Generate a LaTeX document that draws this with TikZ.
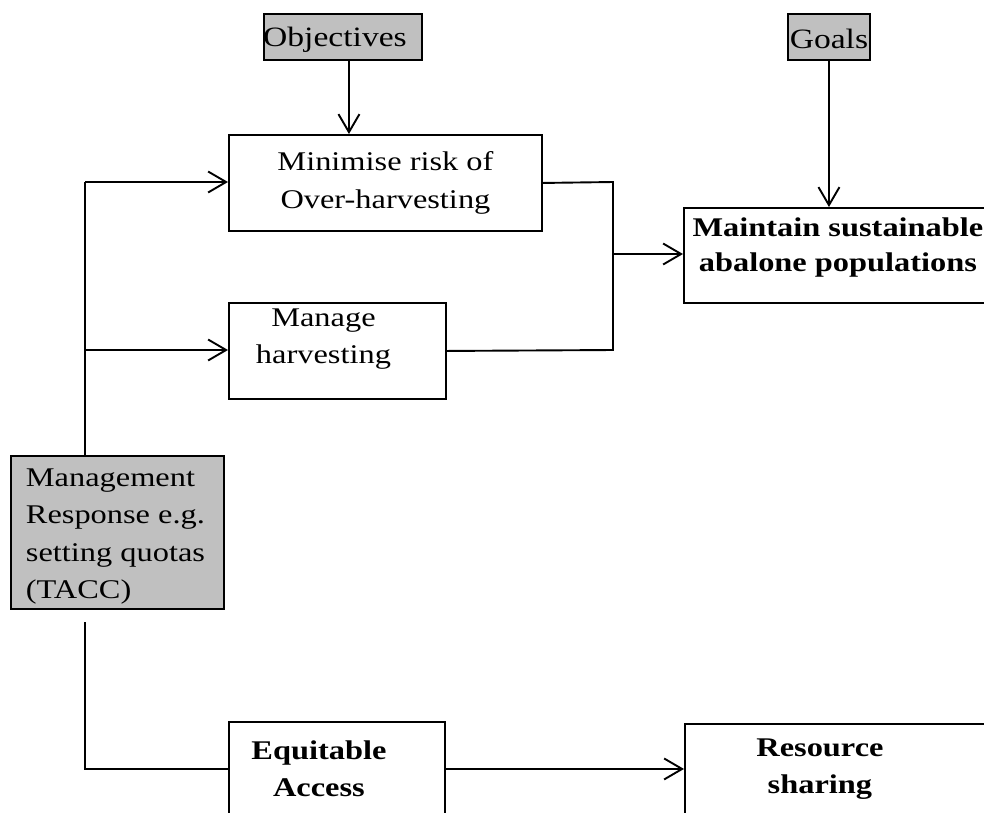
\documentclass[tikz,border=0pt]{standalone}
\usepackage{fontspec}
\setmainfont[FakeStretch=1.2]{Liberation Serif}
\usetikzlibrary{arrows.meta}
\definecolor{boxgray}{HTML}{C0C0C0}
\tikzset{
  box/.style={draw=black, line width=1.9pt, rectangle, inner sep=0pt, anchor=north west},
  graybox/.style={box, fill=boxgray},
  txt/.style={inner sep=0pt, align=center, font=\fontsize{27}{37.5}\selectfont},
  bigtxt/.style={inner sep=0pt, align=center, font=\fontsize{28}{37}\selectfont},
  conn/.style={line width=1.9pt},
  arr/.style={conn, -{Straight Barb[length=18pt, width=21pt, line width=1.9pt]}}
}
\begin{document}
\begin{tikzpicture}[x=1pt, y=-1pt]
\useasboundingbox (0,0) rectangle (984,812);
\clip (0,0) rectangle (984,812);

% boxes
\node[graybox, minimum width=158pt, minimum height=46pt,
      label={[bigtxt, xshift=-8pt, yshift=-3pt]center:Objectives}] (obj) at (263,13) {};
\node[graybox, minimum width=82pt, minimum height=46pt,
      label={[bigtxt, yshift=-2pt]center:Goals}] (goals) at (787,13) {};
\node[box, minimum width=313pt, minimum height=96pt,
      label={[txt]center:Minimise risk of\\Over-harvesting}] (min) at (228,134) {};
\node[box, minimum width=217pt, minimum height=96pt,
      label={[txt, xshift=-14pt, yshift=12pt]center:Manage\\harvesting}] (man) at (228,302) {};
\node[box, minimum width=310pt, minimum height=95pt,
      label={[txt, font=\fontsize{27}{35}\selectfont\bfseries, xshift=-1pt, yshift=8pt]center:Maintain sustainable\\abalone populations}] (maint) at (683,207) {};
\node[graybox, minimum width=213pt, minimum height=153pt,
      label={[txt, align=left, xshift=-2pt, yshift=-4pt]center:Management\\Response e.g.\\setting quotas\\(TACC)}] (mgmt) at (10,455) {};
\node[box, minimum width=216pt, minimum height=94pt,
      label={[txt, font=\fontsize{27}{37.5}\selectfont\bfseries, xshift=-18pt]center:Equitable\\Access}] (equ) at (228,721) {};
\node[box, minimum width=340pt, minimum height=90pt,
      label={[txt, font=\fontsize{27}{37.5}\selectfont\bfseries, xshift=-35pt]center:Resource\\sharing}] (res) at (684,723) {};

% junction coordinates
\coordinate (spT) at (85,182);
\coordinate (spM) at (85,350);
\coordinate (spB) at (85,622);
\coordinate (spC) at (85,769);
\coordinate (jT) at (613,182);
\coordinate (jA) at (613,254);
\coordinate (jB) at (613,350);

% connectors
\draw[arr] ([xshift=6pt]obj.south) -- ([xshift=6pt]obj.south |- min.north);
\draw[arr] (goals.south) -- (goals.south |- maint.north);
\draw[conn] (spM |- mgmt.north) -- (spT);
\draw[arr] (spT) -- (spT -| min.west);
\draw[arr] (spM) -- (spM -| man.west);
\draw[conn] (min.east) -- (jT) -- (jB) -- (man.east);
\draw[arr] (jA) -- (jA -| maint.west);
\draw[conn] (spB) -- (spC) -- (spC -| equ.west);
\draw[arr] (equ.east) -- (res.west);
\end{tikzpicture}
\end{document}
